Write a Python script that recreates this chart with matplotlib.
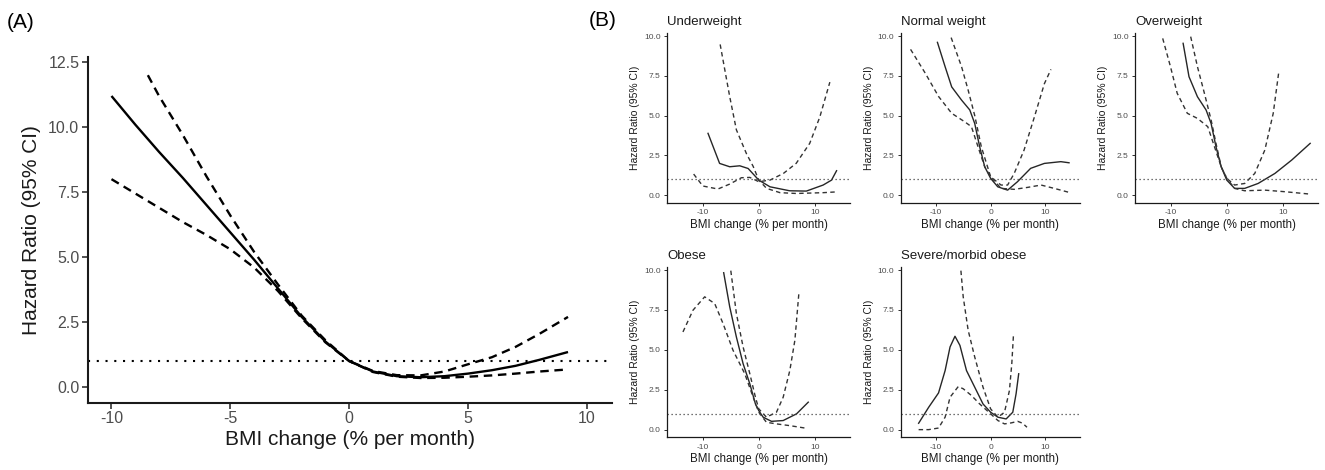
import matplotlib
matplotlib.use("Agg")
import matplotlib.pyplot as plt

plt.rcParams['font.family'] = ['Liberation Sans', 'DejaVu Sans']

# ---------------- Panel A data ----------------
a_x = [-10, -9, -8, -7, -6, -5, -4, -3, -2, -1, 0, 1, 2, 3, 4, 5, 6, 7, 8, 9.2]
a_hr = [11.2, 10.1, 9.05, 8.05, 7.0, 5.95, 4.9, 3.8, 2.7, 1.75, 1.0, 0.6, 0.42, 0.38, 0.42, 0.52, 0.65, 0.82, 1.05, 1.35]
a_lo = [8.0, 7.45, 6.9, 6.35, 5.85, 5.3, 4.6, 3.7, 2.65, 1.72, 1.0, 0.58, 0.4, 0.35, 0.36, 0.4, 0.45, 0.52, 0.6, 0.68]
a_up_x = [-8.47, -8, -7, -6, -5, -4, -3, -2, -1, 0, 1, 2, 3, 4, 5, 6, 7, 8, 9.2]
a_up = [12.0, 11.2, 9.7, 8.1, 6.6, 5.2, 3.95, 2.75, 1.8, 1.0, 0.62, 0.46, 0.45, 0.6, 0.88, 1.15, 1.55, 2.05, 2.7]

# ---------------- Panel B data ----------------
titles = ["Underweight", "Normal weight", "Overweight", "Obese", "Severe/morbid obese"]

uw_hr_x = [-9.07, -7.0, -5.2, -3.4, -1.9, 0, 2.0, 5.5, 8.5, 11.5, 13.0, 13.9]
uw_hr = [3.88, 1.99, 1.78, 1.84, 1.67, 0.94, 0.52, 0.27, 0.25, 0.63, 0.94, 1.53]
uw_c1_x = [-6.9, -5.2, -4.0, -2.2, -1.0, 0, 1.4, 3.8, 6.7, 11.5, 13.9]
uw_c1 = [9.47, 6.2, 4.1, 2.6, 1.8, 0.94, 0.42, 0.15, 0.1, 0.15, 0.2]
uw_c2_x = [-11.64, -10.0, -7.3, -5.2, -3.1, -1.6, 0, 2.0, 4.4, 6.7, 9.1, 10.9, 12.7]
uw_c2 = [1.32, 0.57, 0.38, 0.69, 1.09, 1.11, 0.84, 0.94, 1.36, 2.0, 3.25, 4.9, 7.1]

nw_hr_x = [-9.7, -8.3, -7.1, -5.3, -3.8, -2.9, -2.0, -1.08, 0, 1.3, 3.1, 4.9, 7.3, 9.8, 12.8, 14.3]
nw_hr = [9.6, 8.07, 6.8, 5.97, 5.35, 4.5, 3.04, 1.78, 1.05, 0.52, 0.31, 0.84, 1.68, 1.99, 2.1, 2.03]
nw_c1_x = [-7.2, -5.3, -4.1, -2.9, -1.7, 0, 1.9, 3.1, 4.3, 6.1, 8.0, 9.8, 11.0]
nw_c1 = [9.9, 8.07, 6.6, 5.0, 3.04, 1.15, 0.63, 0.63, 1.36, 2.83, 4.93, 7.0, 7.9]
nw_c2_x = [-14.6, -11.9, -9.5, -7.1, -4.7, -3.5, -2.3, -1.08, 0, 1.9, 4.3, 6.7, 9.2, 11.6, 14.3]
nw_c2 = [9.16, 7.65, 6.2, 5.14, 4.6, 4.3, 3.04, 1.78, 1.15, 0.42, 0.36, 0.48, 0.63, 0.42, 0.17]

ow_hr_x = [-7.8, -6.75, -5.24, -3.7, -2.8, -1.93, -1.0, 0, 1.4, 3.2, 5.6, 8.6, 11.6, 14.9]
ow_hr = [9.54, 7.44, 6.18, 5.35, 4.5, 3.04, 1.78, 0.94, 0.42, 0.42, 0.73, 1.36, 2.2, 3.25]
ow_c1_x = [-6.45, -5.24, -4.0, -2.8, -1.93, -1.0, 0, 1.4, 3.2, 5.0, 6.8, 8.3, 9.3]
ow_c1 = [9.96, 8.07, 6.4, 4.72, 3.25, 1.78, 1.05, 0.63, 0.73, 1.36, 2.83, 5.14, 7.76]
ow_c2_x = [-11.45, -10.06, -8.86, -7.05, -5.24, -3.4, -2.2, -1.0, 0, 1.4, 3.2, 6.8, 10.4, 14.9]
ow_c2 = [9.85, 8.07, 6.4, 5.14, 4.82, 4.3, 3.04, 1.78, 1.05, 0.42, 0.27, 0.31, 0.21, 0.06]

ob_hr_x = [-6.27, -5.19, -4.0, -2.8, -1.6, -0.6, 0, 0.78, 2.27, 4.36, 6.75, 8.84]
ob_hr = [9.83, 7.69, 5.8, 4.13, 2.87, 1.61, 1.19, 0.78, 0.52, 0.57, 0.99, 1.72]
ob_c1_x = [-5.0, -4.0, -2.8, -1.6, -0.6, 0, 1.37, 3.16, 4.36, 5.55, 6.45, 7.16]
ob_c1 = [9.96, 7.27, 5.18, 3.5, 2.03, 1.3, 0.78, 1.09, 2.03, 3.71, 5.6, 8.53]
ob_c2_x = [-13.55, -11.76, -9.67, -7.88, -6.39, -4.6, -2.5, -1.0, 0, 1.37, 3.16, 5.55, 8.24]
ob_c2 = [6.12, 7.48, 8.32, 7.9, 6.65, 4.97, 3.5, 2.03, 1.09, 0.46, 0.36, 0.25, 0.1]

sm_hr_x = [-13.13, -11.3, -9.5, -8.3, -7.4, -6.5, -5.6, -4.4, -2.9, -1.39, 0, 1.33, 2.83, 4.04, 4.64, 5.12]
sm_hr = [0.4, 1.4, 2.3, 3.7, 5.18, 5.85, 5.28, 3.7, 2.66, 1.61, 1.09, 0.78, 0.67, 1.09, 2.24, 3.5]
sm_c1_x = [-5.42, -5.0, -4.1, -2.9, -1.39, 0, 1.33, 2.53, 3.43, 3.86, 4.16]
sm_c1 = [9.96, 8.32, 6.23, 4.55, 2.66, 1.3, 0.78, 1.09, 2.45, 4.13, 5.91]
sm_c2_x = [-13.13, -11.3, -9.5, -8.3, -7.4, -5.9, -5.0, -3.5, -2.0, 0, 1.33, 2.53, 3.73, 4.94, 5.84, 6.63]
sm_c2 = [0.0, 0.0, 0.1, 0.78, 2.03, 2.7, 2.56, 2.14, 1.61, 0.99, 0.57, 0.36, 0.42, 0.52, 0.4, 0.15]

panels = [
    (uw_hr_x, uw_hr, uw_c1_x, uw_c1, uw_c2_x, uw_c2),
    (nw_hr_x, nw_hr, nw_c1_x, nw_c1, nw_c2_x, nw_c2),
    (ow_hr_x, ow_hr, ow_c1_x, ow_c1, ow_c2_x, ow_c2),
    (ob_hr_x, ob_hr, ob_c1_x, ob_c1, ob_c2_x, ob_c2),
    (sm_hr_x, sm_hr, sm_c1_x, sm_c1, sm_c2_x, sm_c2),
]

a_xticks = [-10, -5, 0, 5, 10]
a_yticks = [0, 2.5, 5, 7.5, 10, 12.5]
b_xticks = [-10, 0, 10]
b_yticks = [0, 2.5, 5, 7.5, 10]

W, H = 1325, 470
fig = plt.figure(figsize=(W / 100, H / 100), dpi=100)

def rect(l, r, b, t):
    return [l / W, 1 - b / H, (r - l) / W, (b - t) / H]

TICKC = "#4D4D4D"
SPINEC = "#1a1a1a"

def style(ax, lw, tsize, tlen):
    for s in ["top", "right"]:
        ax.spines[s].set_visible(False)
    for s in ["left", "bottom"]:
        ax.spines[s].set_linewidth(lw)
        ax.spines[s].set_color(SPINEC)
    ax.tick_params(axis="both", direction="out", length=tlen, width=lw * 0.8,
                   color="#333333", labelcolor=TICKC, labelsize=tsize, pad=2)

# ---- Panel A ----
axA = fig.add_axes(rect(87.7, 612, 402.7, 57))
axA.plot(a_x, a_hr, color="black", lw=1.7, solid_capstyle="butt")
axA.plot(a_x, a_lo, color="black", lw=1.7, linestyle=(0, (3.6, 2.4)))
axA.plot(a_up_x, a_up, color="black", lw=1.7, linestyle=(0, (3.6, 2.4)))
axA.axhline(1, color="black", lw=1.5, linestyle=(0, (1, 3.2)))
axA.set_xlim(-11.0, 11.05)
axA.set_ylim(-0.6, 12.7)
axA.set_xticks(a_xticks)
axA.set_xticklabels([str(t) for t in a_xticks])
axA.set_yticks(a_yticks)
axA.set_yticklabels([f"{t:.1f}" for t in a_yticks])
style(axA, 1.5, 11.5, 4)
axA.set_xlabel("BMI change (% per month)", fontsize=15, color="#1a1a1a", labelpad=3)
axA.set_ylabel("Hazard Ratio (95% CI)", fontsize=15, color="#1a1a1a", labelpad=5)
fig.text(7 / W, 1 - 23 / H, "(A)", fontsize=15, va="center", ha="left")
fig.text(589 / W, 1 - 20 / H, "(B)", fontsize=15, va="center", ha="left")

# ---- Panel B ----
cols = [(667, 850), (900.7, 1080), (1135, 1318)]
rows = [(202.7, 33.3), (437.3, 267.3)]
pos = [(0, 0), (0, 1), (0, 2), (1, 0), (1, 1)]
LC = "#262626"
for k, (title, data) in enumerate(zip(titles, panels)):
    r, c = pos[k]
    l, rr = cols[c]
    b, t = rows[r]
    ax = fig.add_axes(rect(l, rr, b, t))
    hx, hy, c1x, c1y, c2x, c2y = data
    ax.plot(hx, hy, color=LC, lw=1.0)
    ax.plot(c1x, c1y, color="#333333", lw=1.0, linestyle=(0, (3.2, 2.4)))
    ax.plot(c2x, c2y, color="#333333", lw=1.0, linestyle=(0, (3.2, 2.4)))
    ax.axhline(1, color="#444444", lw=0.9, linestyle=(0, (1, 2.2)))
    ax.set_xlim(-16.4, 16.3)
    ax.set_ylim(-0.48, 10.17)
    ax.set_xticks(b_xticks)
    ax.set_xticklabels([str(t) for t in b_xticks])
    ax.set_yticks(b_yticks)
    ax.set_yticklabels([f"{t:.1f}" for t in b_yticks])
    style(ax, 0.9, 6, 2.5)
    ax.set_xlabel("BMI change (% per month)", fontsize=8.3, color="#1a1a1a", labelpad=2)
    ax.set_ylabel("Hazard Ratio (95% CI)", fontsize=7.5, color="#1a1a1a", labelpad=3)
    ax.set_title(title, loc="left", fontsize=9.5, color="#1a1a1a", pad=6)

fig.savefig("out.png", dpi=100)
